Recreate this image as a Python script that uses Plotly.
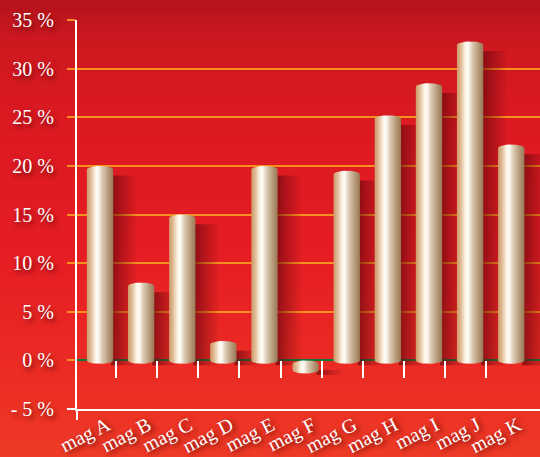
import numpy as np
import plotly.graph_objects as go

# ---- data ----
categories = ["mag A", "mag B", "mag C", "mag D", "mag E", "mag F",
              "mag G", "mag H", "mag I", "mag J", "mag K"]
values = [20, 8, 15, 2, 20, -1, 19.5, 25.2, 28.5, 32.8, 22.2]
y_tick_vals = [-5, 0, 5, 10, 15, 20, 25, 30, 35]
y_tick_text = ["- 5 %", "0 %", "5 %", "10 %", "15 %", "20 %", "25 %", "30 %", "35 %"]

# ---- geometry / style ----
W, H = 540, 457
ML, MR, MT, MB = 77, 0, 20, 48
PW, PH = W - ML - MR, H - MT - MB
X_RANGE = [-0.56, 10.7]
Y_RANGE = [-5, 35]
HW = 0.32            # half width of cylinder (x units)
CAP = 0.36           # ellipse semi-minor (y units)
FONT = "Liberation Serif"
SHADOW_TXT = "2px 3px 5px rgba(80,0,0,0.8)"

cyl_scale = [[0.0, "#cf9a6a"], [0.12, "#dcb38a"], [0.32, "#fbf3e6"],
             [0.42, "#fffdf8"], [0.58, "#dccbb4"], [0.8, "#b89c7c"],
             [1.0, "#9a7855"]]
shadow_scale = [[0.0, "rgba(100,6,12,0.7)"], [0.45, "rgba(100,6,12,0.35)"],
                [1.0, "rgba(100,6,12,0)"]]

fig = go.Figure()

idx = np.arange(len(categories))

# shadows
for c, v in zip(idx, values):
    lo, hi = min(0, v), max(0, v)
    x0s, x1s = c + HW - 0.05, c + HW + 0.6
    ys0, ys1 = lo - 0.5, hi - 1.0
    xs = [x0s, x1s, x1s, x0s, x0s]
    ys = [ys0, ys0, ys1, ys1, ys0]
    fig.add_trace(go.Scatter(x=xs, y=ys, mode="lines", fill="toself",
                             line=dict(width=0),
                             fillgradient=dict(type="horizontal", colorscale=shadow_scale),
                             hoverinfo="skip", showlegend=False))

# cylinders
t_bot = np.linspace(np.pi, 2 * np.pi, 25)
t_top = np.linspace(0, np.pi, 25)
for c, v, name in zip(idx, values, categories):
    lo, hi = min(0, v), max(0, v)
    xb = c + HW * np.cos(t_bot)
    yb = lo + CAP * np.sin(t_bot)
    xt = c + HW * np.cos(t_top)
    yt = (hi - CAP) + CAP * np.sin(t_top)
    xs = np.concatenate([xb, xt, [xb[0]]])
    ys = np.concatenate([yb, yt, [yb[0]]])
    fig.add_trace(go.Scatter(x=xs, y=ys, mode="lines", fill="toself",
                             line=dict(width=0), name=name,
                             fillgradient=dict(type="horizontal", colorscale=cyl_scale),
                             hoverinfo="skip", showlegend=False))

# dummy trace for boundary tick axis
fig.add_trace(go.Scatter(x=[X_RANGE[0]], y=[0], xaxis="x2", mode="markers",
                         marker=dict(opacity=0), hoverinfo="skip", showlegend=False))

# background gradient bands
stops = [(0, (180, 20, 28)), (40, (205, 24, 32)), (120, (220, 26, 34)),
         (250, (230, 29, 36)), (380, (236, 45, 36)), (457, (238, 58, 38))]
def bg_color(py):
    for (p0, c0), (p1, c1) in zip(stops[:-1], stops[1:]):
        if p0 <= py <= p1:
            f = (py - p0) / (p1 - p0)
            return "rgb(%d,%d,%d)" % tuple(int(a + (b - a) * f) for a, b in zip(c0, c1))
    return "rgb(%d,%d,%d)" % stops[-1][1]

shapes = []
band = 6
for py in range(0, H, band):
    y0 = (H - MB - (py + band + 1)) / PH
    y1 = (H - MB - py) / PH
    shapes.append(dict(type="rect", xref="paper", yref="paper",
                       x0=-ML / PW - 0.01, x1=1.01, y0=y0, y1=y1,
                       fillcolor=bg_color(py + band / 2), line=dict(width=0),
                       layer="below"))
# -5 tick and y-axis extension in white
shapes.append(dict(type="line", xref="paper", yref="paper",
                   x0=-10 / PW, x1=0, y0=0, y1=0,
                   line=dict(color="white", width=2), layer="above"))
shapes.append(dict(type="line", xref="paper", yref="paper",
                   x0=0, x1=0, y0=-11 / PH, y1=0,
                   line=dict(color="white", width=2), layer="above"))

zero_pos = (0 - Y_RANGE[0]) / (Y_RANGE[1] - Y_RANGE[0])

fig.update_layout(
    width=W, height=H,
    margin=dict(l=ML, r=MR, t=MT, b=MB, pad=0, autoexpand=False),
    paper_bgcolor="#e31b23",
    plot_bgcolor="rgba(0,0,0,0)",
    shapes=shapes,
    showlegend=False,
    xaxis=dict(range=X_RANGE, tickvals=idx, ticktext=categories,
               tickangle=-27, ticks="", showgrid=False, zeroline=False,
               ticklabelstandoff=-5, ticklabelshift=7,
               showline=True, linecolor="white", linewidth=2, automargin=False,
               tickfont=dict(family=FONT, size=20, color="white", shadow=SHADOW_TXT),
               fixedrange=True),
    xaxis2=dict(range=X_RANGE, overlaying="x", anchor="free", position=zero_pos,
                side="bottom", tickvals=idx[:-1] + 0.39, ticks="outside",
                ticklen=17, tickwidth=2, tickcolor="white", automargin=False,
                showticklabels=False, showgrid=False, zeroline=False, showline=False),
    yaxis=dict(range=Y_RANGE, tickvals=y_tick_vals, ticktext=y_tick_text,
               ticks="outside", ticklen=8, tickwidth=2, tickcolor="#f7901e",
               ticklabelstandoff=9, automargin=False,
               showgrid=True, gridcolor="#f7901e", gridwidth=2,
               zeroline=True, zerolinecolor="#0b7a3a", zerolinewidth=2,
               showline=True, linecolor="white", linewidth=2,
               tickfont=dict(family=FONT, size=20, color="white", shadow=SHADOW_TXT),
               fixedrange=True),
)

fig.write_html("out.html",
               config={"displayModeBar": False, "staticPlot": True},
               post_script="document.body.style.margin='0';"
                           "document.body.style.overflow='hidden';")
